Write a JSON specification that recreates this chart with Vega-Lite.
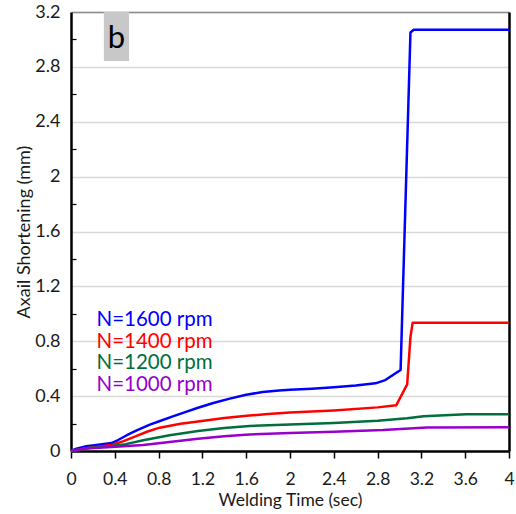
{
  "$schema": "https://vega.github.io/schema/vega-lite/v6.json",
  "width": 438,
  "height": 439,
  "autosize": {"type": "none"},
  "padding": {"left": 71, "top": 12, "right": 7, "bottom": 63},
  "background": "white",
  "config": {
    "font": "Lato",
    "view": {"stroke": null},
    "axis": {"labelFont": "Lato", "titleFont": "Lato", "labelColor": "#1a1a1a", "titleColor": "#1a1a1a"}
  },
  "datasets": {
    "curves": [
      {"s": "N=1600 rpm", "t": 0, "v": 0},
      {"s": "N=1600 rpm", "t": 0.05, "v": 0.017},
      {"s": "N=1600 rpm", "t": 0.14, "v": 0.034},
      {"s": "N=1600 rpm", "t": 0.25, "v": 0.045},
      {"s": "N=1600 rpm", "t": 0.37, "v": 0.058},
      {"s": "N=1600 rpm", "t": 0.43, "v": 0.08},
      {"s": "N=1600 rpm", "t": 0.51, "v": 0.115},
      {"s": "N=1600 rpm", "t": 0.6, "v": 0.15},
      {"s": "N=1600 rpm", "t": 0.72, "v": 0.192},
      {"s": "N=1600 rpm", "t": 0.8, "v": 0.215},
      {"s": "N=1600 rpm", "t": 0.93, "v": 0.252},
      {"s": "N=1600 rpm", "t": 1.05, "v": 0.285},
      {"s": "N=1600 rpm", "t": 1.16, "v": 0.315},
      {"s": "N=1600 rpm", "t": 1.3, "v": 0.35},
      {"s": "N=1600 rpm", "t": 1.45, "v": 0.382},
      {"s": "N=1600 rpm", "t": 1.6, "v": 0.41},
      {"s": "N=1600 rpm", "t": 1.75, "v": 0.43},
      {"s": "N=1600 rpm", "t": 1.9, "v": 0.441},
      {"s": "N=1600 rpm", "t": 2.0, "v": 0.446},
      {"s": "N=1600 rpm", "t": 2.2, "v": 0.454},
      {"s": "N=1600 rpm", "t": 2.4, "v": 0.465},
      {"s": "N=1600 rpm", "t": 2.6, "v": 0.478},
      {"s": "N=1600 rpm", "t": 2.78, "v": 0.493},
      {"s": "N=1600 rpm", "t": 2.87, "v": 0.517},
      {"s": "N=1600 rpm", "t": 3.01, "v": 0.59},
      {"s": "N=1600 rpm", "t": 3.1, "v": 3.05},
      {"s": "N=1600 rpm", "t": 3.13, "v": 3.07},
      {"s": "N=1600 rpm", "t": 4.0, "v": 3.07},
      {"s": "N=1400 rpm", "t": 0, "v": 0},
      {"s": "N=1400 rpm", "t": 0.14, "v": 0.02},
      {"s": "N=1400 rpm", "t": 0.37, "v": 0.044},
      {"s": "N=1400 rpm", "t": 0.48, "v": 0.072},
      {"s": "N=1400 rpm", "t": 0.6, "v": 0.11},
      {"s": "N=1400 rpm", "t": 0.7, "v": 0.142},
      {"s": "N=1400 rpm", "t": 0.81, "v": 0.17},
      {"s": "N=1400 rpm", "t": 1.0, "v": 0.198},
      {"s": "N=1400 rpm", "t": 1.16, "v": 0.215},
      {"s": "N=1400 rpm", "t": 1.4, "v": 0.24},
      {"s": "N=1400 rpm", "t": 1.63, "v": 0.258},
      {"s": "N=1400 rpm", "t": 1.8, "v": 0.27},
      {"s": "N=1400 rpm", "t": 2.0, "v": 0.28},
      {"s": "N=1400 rpm", "t": 2.4, "v": 0.296},
      {"s": "N=1400 rpm", "t": 2.8, "v": 0.318},
      {"s": "N=1400 rpm", "t": 2.97, "v": 0.333},
      {"s": "N=1400 rpm", "t": 3.07, "v": 0.486},
      {"s": "N=1400 rpm", "t": 3.1, "v": 0.83},
      {"s": "N=1400 rpm", "t": 3.12, "v": 0.935},
      {"s": "N=1400 rpm", "t": 4.0, "v": 0.935},
      {"s": "N=1200 rpm", "t": 0, "v": 0},
      {"s": "N=1200 rpm", "t": 0.14, "v": 0.02},
      {"s": "N=1200 rpm", "t": 0.37, "v": 0.037},
      {"s": "N=1200 rpm", "t": 0.5, "v": 0.05},
      {"s": "N=1200 rpm", "t": 0.66, "v": 0.078},
      {"s": "N=1200 rpm", "t": 0.9, "v": 0.115},
      {"s": "N=1200 rpm", "t": 1.16, "v": 0.146},
      {"s": "N=1200 rpm", "t": 1.4, "v": 0.168},
      {"s": "N=1200 rpm", "t": 1.63, "v": 0.183},
      {"s": "N=1200 rpm", "t": 2.0, "v": 0.194},
      {"s": "N=1200 rpm", "t": 2.4, "v": 0.204},
      {"s": "N=1200 rpm", "t": 2.8, "v": 0.221},
      {"s": "N=1200 rpm", "t": 3.07, "v": 0.238},
      {"s": "N=1200 rpm", "t": 3.22, "v": 0.254},
      {"s": "N=1200 rpm", "t": 3.61, "v": 0.267},
      {"s": "N=1200 rpm", "t": 4.0, "v": 0.267},
      {"s": "N=1000 rpm", "t": 0, "v": 0},
      {"s": "N=1000 rpm", "t": 0.14, "v": 0.018},
      {"s": "N=1000 rpm", "t": 0.37, "v": 0.03},
      {"s": "N=1000 rpm", "t": 0.66, "v": 0.043},
      {"s": "N=1000 rpm", "t": 0.9, "v": 0.066},
      {"s": "N=1000 rpm", "t": 1.16, "v": 0.09},
      {"s": "N=1000 rpm", "t": 1.4, "v": 0.108},
      {"s": "N=1000 rpm", "t": 1.63, "v": 0.12},
      {"s": "N=1000 rpm", "t": 2.0, "v": 0.131},
      {"s": "N=1000 rpm", "t": 2.4, "v": 0.14},
      {"s": "N=1000 rpm", "t": 2.85, "v": 0.153},
      {"s": "N=1000 rpm", "t": 3.25, "v": 0.172},
      {"s": "N=1000 rpm", "t": 4.0, "v": 0.173}
    ],
    "tag": [{"label": "b", "x0": 0.3, "x1": 0.53, "y0": 2.843, "y1": 3.2, "xm": 0.415, "ym": 3.0}]
  },
  "resolve": {"axis": {"x": "independent", "y": "independent"}},
  "layer": [
    {
      "data": {"name": "curves"},
      "mark": {"type": "line", "strokeWidth": 2.5, "interpolate": "linear", "strokeJoin": "round"},
      "encoding": {
        "x": {
          "field": "t", "type": "quantitative",
          "scale": {"domain": [0, 4], "nice": false, "zero": false},
          "axis": {
            "orient": "bottom",
            "title": "Welding Time (sec)",
            "titleFontSize": 17.5, "titleFontWeight": "normal",
            "titleX": 219, "titleY": 54, "titleBaseline": "alphabetic", "titleAlign": "center",
            "values": [0, 0.4, 0.8, 1.2, 1.6, 2, 2.4, 2.8, 3.2, 3.6, 4],
            "format": ".1~f",
            "labelFontSize": 17.5, "labelPadding": 26, "labelBaseline": "alphabetic", "labelFlush": false,
            "grid": false,
            "domainColor": "black", "domainWidth": 2.5,
            "tickColor": "black", "tickWidth": 1.5, "tickSize": 7
          }
        },
        "y": {
          "field": "v", "type": "quantitative",
          "scale": {"domain": [0, 3.2], "nice": false, "zero": false},
          "axis": {
            "orient": "left",
            "title": "Axail Shortening (mm)",
            "titleFontSize": 18, "titleFontWeight": "normal",
            "titleX": -42, "titleY": 219.5, "titleBaseline": "alphabetic", "titleAlign": "center", "titleAngle": -90,
            "values": [0, 0.2, 0.4, 0.6, 0.8, 1, 1.2, 1.4, 1.6, 1.8, 2, 2.2, 2.4, 2.6, 2.8, 3, 3.2],
            "format": ".1~f",
            "labelExpr": "round(datum.value*5) % 2 == 0 ? datum.label : ''",
            "labelFontSize": 18, "labelPadding": 16, "labelFlush": false,
            "grid": true,
            "gridColor": {"condition": {"test": "round(datum.value*5) % 2 == 0", "value": "#d9d9d9"}, "value": "transparent"},
            "gridWidth": 1.5,
            "domainColor": "black", "domainWidth": 2.5,
            "tickColor": {"condition": {"test": "round(datum.value*5) % 2 == 1", "value": "black"}, "value": "transparent"},
            "tickWidth": 1.2, "tickSize": -5
          }
        },
        "color": {
          "field": "s", "type": "nominal",
          "scale": {"domain": ["N=1600 rpm", "N=1400 rpm", "N=1200 rpm", "N=1000 rpm"], "range": ["#0000ff", "#ff0000", "#006f3c", "#9900cc"]},
          "legend": {
            "orient": "none", "legendX": 5, "legendY": 298,
            "title": null,
            "symbolOpacity": 0, "symbolSize": 0, "symbolStrokeWidth": 0,
            "labelFontSize": 20.5, "labelFont": "Lato", "labelOffset": 0,
            "rowPadding": 0.5, "labelLimit": 300,
            "encode": {"labels": {"update": {"fill": {"scale": "color", "field": "value"}}}}
          }
        }
      }
    },
    {
      "data": {"name": "tag"},
      "mark": {"type": "rect", "color": "#c8c8c8"},
      "encoding": {
        "x": {"field": "x0", "type": "quantitative", "axis": {"orient": "top", "title": null, "labels": false, "ticks": false, "grid": false, "domainColor": "#8c8c8c", "domainWidth": 1.5}},
        "x2": {"field": "x1"},
        "y": {"field": "y0", "type": "quantitative", "axis": {"orient": "right", "title": null, "labels": false, "ticks": false, "grid": false, "domainColor": "black", "domainWidth": 2.5}},
        "y2": {"field": "y1"}
      }
    },
    {
      "data": {"name": "tag"},
      "mark": {"type": "text", "fontSize": 31, "font": "Lato", "color": "black", "baseline": "middle", "align": "center"},
      "encoding": {
        "x": {"field": "xm", "type": "quantitative", "axis": null},
        "y": {"field": "ym", "type": "quantitative", "axis": null},
        "text": {"field": "label"}
      }
    }
  ]
}
